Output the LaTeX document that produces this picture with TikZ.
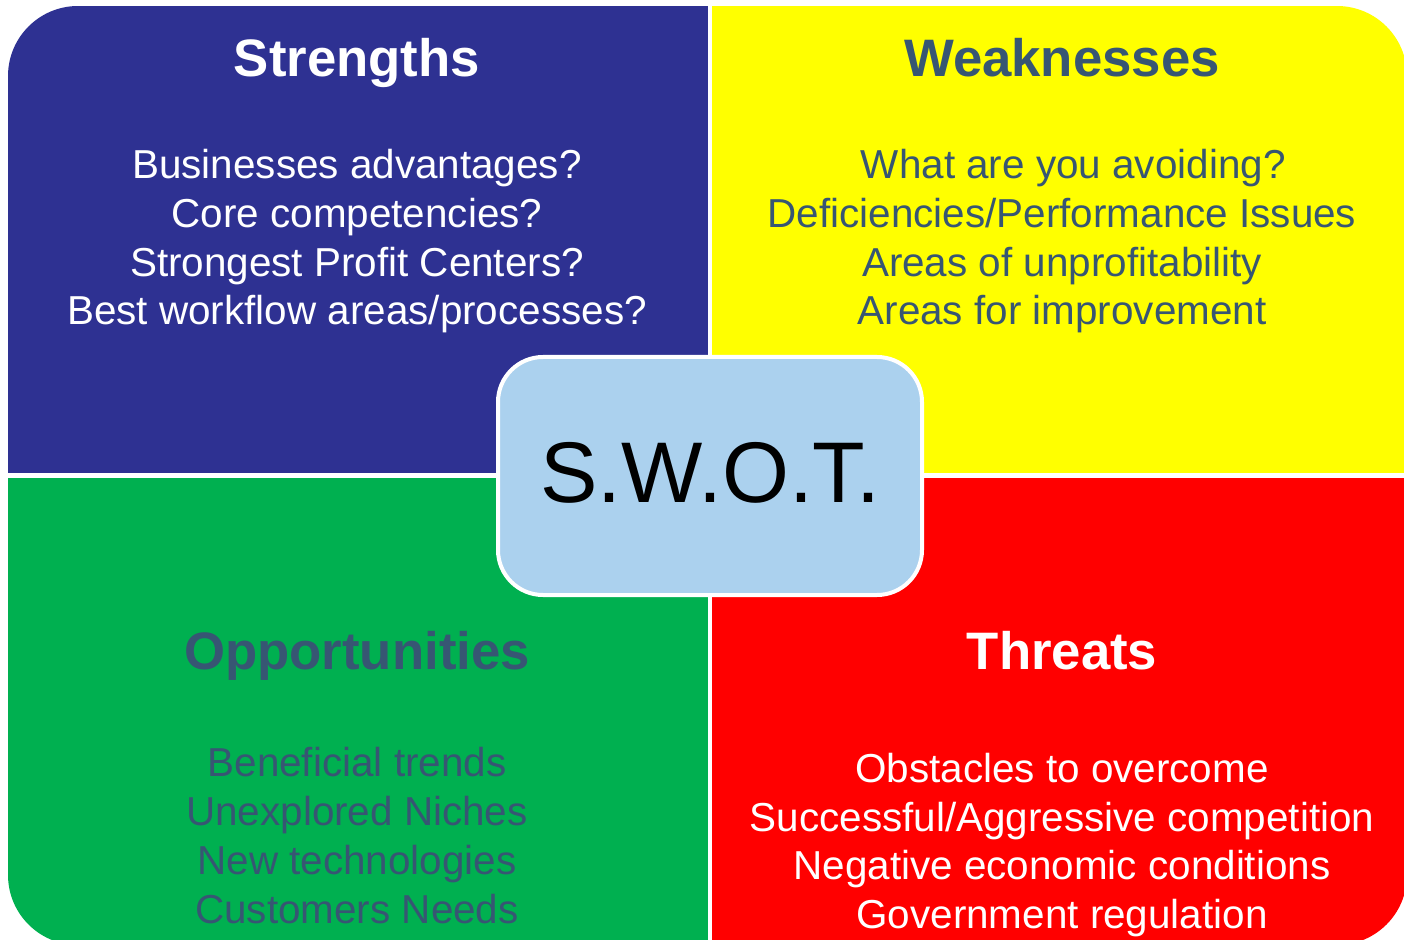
\documentclass[tikz,border=0pt]{standalone}
\usepackage{fontspec}
\setmainfont{Liberation Sans}
\usetikzlibrary{positioning}

\begin{document}
\begin{tikzpicture}[
    every node/.style={align=center},
]

% Colors
\definecolor{strcolor}{HTML}{2E3192}
\definecolor{weakcolor}{HTML}{FFFF00}
\definecolor{oppcolor}{HTML}{00B050}
\definecolor{thrcolor}{HTML}{FF0000}
\definecolor{swotcolor}{HTML}{ABD1EE}
\definecolor{darkcolor}{HTML}{375673}

% Outer frame
\def\fl{0.16}
\def\ft{-0.12}
\def\fr{28.14}
\def\fb{-18.9}
\def\fround{1.4cm}

% Dividers
\def\midx{14.19}
\def\midy{-9.51}

% X positions
\def\xl{7.14}
\def\xr{21.24}

% Y positions (baselines; body nodes sit on their last line)
\def\ttop{-1.54}
\def\btop{-6.5}
\def\tbot{-13.38}

% Fonts
\def\titlefont{\fontsize{30}{36}\selectfont\bfseries}
\def\bodyfont{\fontsize{23}{27.7}\selectfont}

\useasboundingbox (0,0) rectangle (28.08,-18.8);
\clip (0,0) rectangle (28.08,-18.8);

% Quadrants, cut from one rounded frame
\begin{scope}
    \clip[rounded corners=\fround] (\fl,\ft) rectangle (\fr,\fb);
    \fill[strcolor] (\fl,\ft) rectangle (\midx,\midy);
    \fill[weakcolor] (\midx,\ft) rectangle (\fr,\midy);
    \fill[oppcolor] (\fl,\midy) rectangle (\midx,\fb);
    \fill[thrcolor] (\midx,\midy) rectangle (\fr,\fb);
\end{scope}

% White gaps between quadrants
\draw[white, line width=0.08cm] (\midx,0) -- (\midx,-18.8);
\draw[white, line width=0.1cm] (0,\midy) -- (28.08,\midy);

% Strengths
\node[anchor=base, font=\titlefont, text=white] (strtitle) at (\xl, \ttop) {Strengths};
\node[anchor=base, font=\bodyfont, text=white] (strbody) at (\xl, \btop)
    {Businesses advantages?\\Core competencies?\\Strongest Profit Centers?\\Best workflow areas/processes?};

% Weaknesses
\node[anchor=base, font=\titlefont, text=darkcolor] (weaktitle) at (\xr, \ttop) {Weaknesses};
\node[anchor=base, font=\bodyfont, text=darkcolor] (weakbody) at (\xr, \btop)
    {\kern0.45cm What are you avoiding?\\Deficiencies/Performance Issues\\Areas of unprofitability\\Areas for improvement};

% Opportunities
\node[anchor=base, font=\titlefont, text=darkcolor] (opptitle) at (\xl, \tbot) {Opportunities};
\node[anchor=base, font=\bodyfont, text=darkcolor] (oppbody) at (\xl, -18.46)
    {Beneficial trends\\Unexplored Niches\\New technologies\\Customers Needs};

% Threats
\node[anchor=base, font=\titlefont, text=white] (thrtitle) at (\xr, \tbot) {Threats};
\node[anchor=base, font=\bodyfont, text=white] (thrbody) at (\xr, -18.57)
    {Obstacles to overcome\\Successful/Aggressive competition\\Negative economic conditions\\Government regulation};

% Centre box
\node[fill=swotcolor, draw=white, line width=0.08cm, rounded corners=0.9cm,
    minimum width=8.48cm, minimum height=4.76cm,
    text height=1.3cm, text depth=0.26cm,
    font=\fontsize{49}{56}\selectfont] (swot) at (14.2, -9.52) {S.W.O.T.};

\end{tikzpicture}
\end{document}
